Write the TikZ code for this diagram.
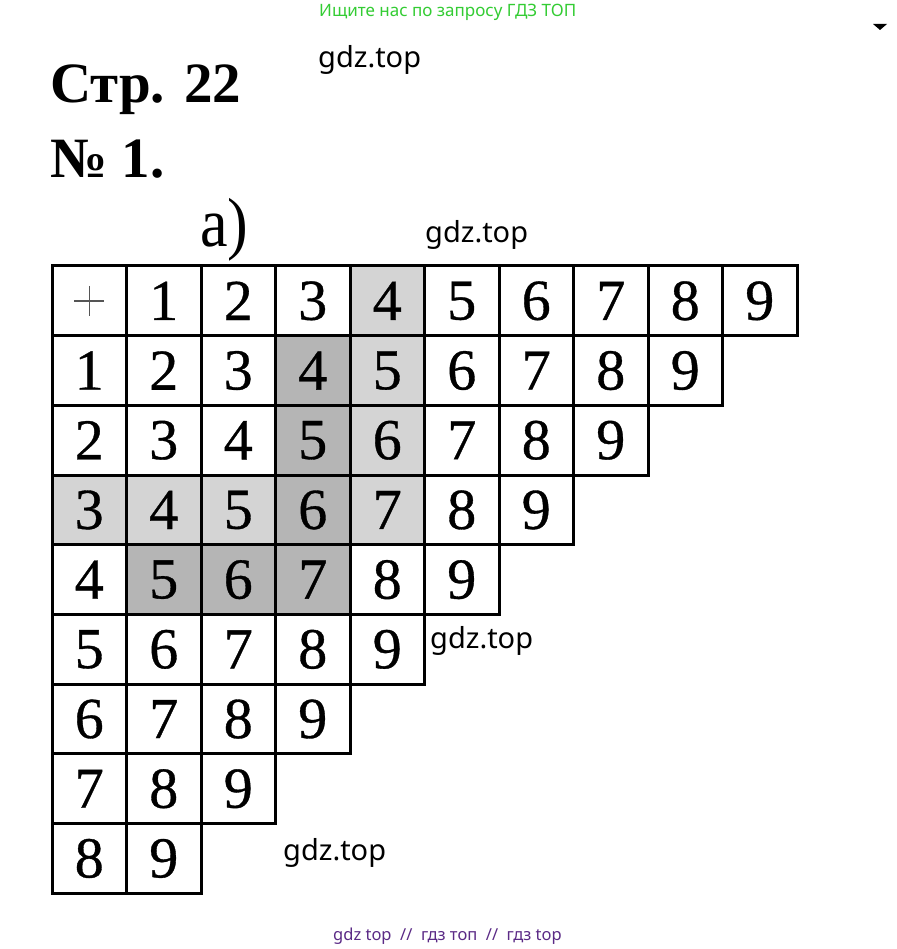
\documentclass[tikz,border=0pt]{standalone}
\usepackage{fontspec}
\setmainfont{Liberation Serif}
\newfontfamily\wmfont{Noto Sans}
\newfontfamily\digitfont[FakeBold=0.6]{Liberation Serif}
\definecolor{lightcell}{HTML}{D4D4D4}
\definecolor{darkcell}{HTML}{B5B5B5}
\definecolor{wmgreen}{HTML}{33CC33}
\definecolor{wmpurple}{HTML}{5B2A86}
\definecolor{plusgray}{HTML}{555555}
\begin{document}
\begin{tikzpicture}[x=1pt,y=-1pt,
  cellbox/.style={draw=black,line width=3pt,minimum width=74.5pt,minimum height=69.7pt,
    inner sep=0pt,outer sep=0pt,anchor=north west,fill=white,
    font=\digitfont\fontsize{58}{60}\selectfont},
  lt/.style={fill=lightcell},
  dk/.style={fill=darkcell},
  s04/.style={lt}, s14/.style={lt}, s24/.style={lt},
  s30/.style={lt}, s31/.style={lt}, s32/.style={lt}, s34/.style={lt},
  s13/.style={dk}, s23/.style={dk}, s33/.style={dk},
  s41/.style={dk}, s42/.style={dk}, s43/.style={dk},
  title/.style={anchor=base west,inner sep=0pt,font=\bfseries\fontsize{57}{60}\selectfont},
  wm/.style={anchor=base west,inner sep=0pt,font=\wmfont\fontsize{29}{32}\selectfont},
  plusline/.style={draw=plusgray,line width=1.3pt}
]
\useasboundingbox[fill=white] (0,0) rectangle (896,949);

\node[wm,text=wmgreen,font=\wmfont\fontsize{17}{20}\selectfont] (topwm) at (319,17) {Ищите нас по запросу ГДЗ ТОП};
\node[title] (page) at (50,103) {Стр. 22};
\node[title] (num) at (50,178) {№ 1.};
\node[anchor=base west,inner sep=0pt,font=\fontsize{62}{64}\selectfont] (parta) at (200,247) {\scalebox{1}[1.12]{а)}};

\node[wm] (wm1) at (318,68) {gdz.top};
\node[wm] (wm2) at (425,243) {gdz.top};

\foreach \r in {0,...,8}{
  \foreach \c in {0,...,9}{
    \pgfmathtruncatemacro\tot{\r+\c}
    \ifnum\tot<10
      \ifnum\r=0
        \ifnum\c=0 \def\val{}\else \edef\val{\c}\fi
      \else
        \ifnum\c=0 \edef\val{\r}\else \edef\val{\tot}\fi
      \fi
      \node[cellbox,s\r\c/.try] (cell-\r-\c) at ({52+\c*74.5},{266+\r*69.7}) {\val};
    \fi
  }
}
\draw[plusline] (cell-0-0.center) ++(-15,0) -- ++(30,0);
\draw[plusline] (cell-0-0.center) ++(0,-15) -- ++(0,30);

\node[wm] (wm3) at (430,648) {gdz.top};
\node[wm] (wm4) at (283,860) {gdz.top};

\node[wm,text=wmpurple,font=\wmfont\fontsize{16.5}{19}\selectfont] (botwm) at (333,940) {gdz top\ \ //\ \ гдз топ\ \ //\ \ гдз top};

\fill[black] (873,24) -- (887,24) -- (880,30) -- cycle;
\end{tikzpicture}
\end{document}
